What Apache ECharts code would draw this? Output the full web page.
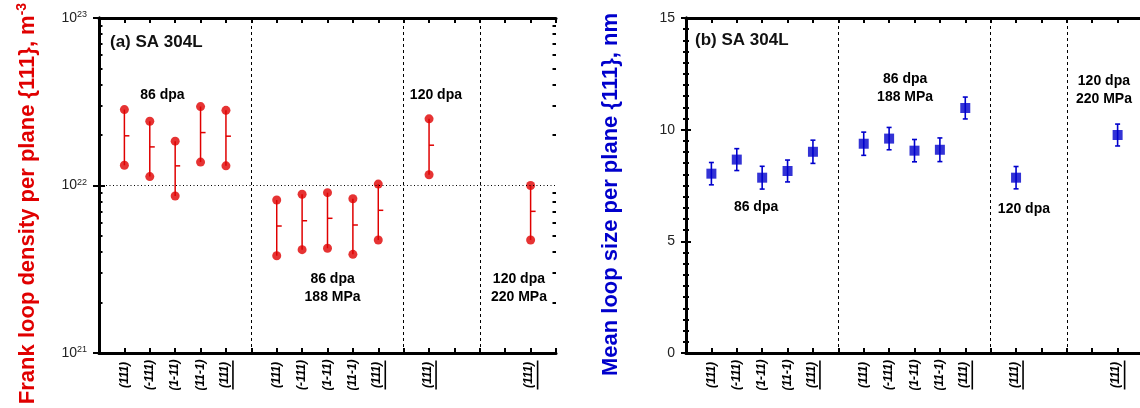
<!DOCTYPE html>
<html><head><meta charset="utf-8">
<script src="https://cdn.jsdelivr.net/npm/echarts@6/dist/echarts.min.js"></script>
<style>html,body{margin:0;padding:0;background:#fff}#c{width:1140px;height:408px}</style>
</head><body><div id="c"></div>
<script>
// ---- data ----
const catPos = [1, 2, 3, 4, 5, 7, 8, 9, 10, 11, 13, 17];
const catLabels = ['(111)', '(-111)', '(1-11)', '(11-1)', '(111)', '(111)', '(-111)', '(1-11)', '(11-1)', '(111)', '(111)', '(111)'];
const catUnderlined = [false, false, false, false, true, false, false, false, false, true, true, true];
const groupDividers = [6, 12, 15];

// Frank loop density per plane (m^-3): upper / lower bounds and mean
const densHigh = [2.84e22, 2.42e22, 1.84e22, 2.96e22, 2.81e22, 8.19e21, 8.86e21, 9.06e21, 8.34e21, 1.02e22, 2.50e22, 1.00e22];
const densLow  = [1.32e22, 1.13e22, 8.66e21, 1.38e22, 1.31e22, 3.81e21, 4.14e21, 4.22e21, 3.88e21, 4.73e21, 1.16e22, 4.73e21];
const densMid  = [1.98e22, 1.70e22, 1.31e22, 2.07e22, 1.97e22, 5.73e21, 6.16e21, 6.37e21, 5.81e21, 7.11e21, 1.74e22, 7.01e21];

// Mean loop size per plane (nm) and error
const sizeMean = [8.03, 8.66, 7.85, 8.15, 9.01, 9.37, 9.60, 9.06, 9.10, 10.97, 7.85, 9.76];
const sizeErr  = [0.50, 0.49, 0.51, 0.49, 0.52, 0.52, 0.50, 0.50, 0.53, 0.49, 0.50, 0.49];

// log-axis minor ticks
const densMinorTicks = [2e21,3e21,4e21,5e21,6e21,7e21,8e21,9e21,2e22,3e22,4e22,5e22,6e22,7e22,8e22,9e22];

// annotations (data coordinates)
const annLeftText = ['86 dpa', '86 dpa\n188 MPa', '120 dpa', '120 dpa\n220 MPa'];
const annLeftX = [2.5, 9.2, 13.27, 16.54];
const annLeftY = [3.44e22, 2.44e21, 3.47e22, 2.44e21];
const annRightText = ['86 dpa', '86 dpa\n188 MPa', '120 dpa', '120 dpa\n220 MPa'];
const annRightX = [2.76, 8.63, 13.31, 16.46];
const annRightY = [6.54, 11.85, 6.45, 11.76];

const panelTitles = ['(a) SA 304L', '(b) SA 304L'];

// ---- styles ----
const FONT = "'Liberation Sans', Arial, Helvetica, sans-serif";
const RED = '#e00000';
const BLUE = '#0000cc';

const labelMap = {};
catPos.forEach((p, i) => { labelMap[p] = catUnderlined[i] ? '{t|' + catLabels[i] + '}\n{u|}' : '{t|' + catLabels[i] + '}'; });

function xAxes(gi) {
  const common = {
    gridIndex: gi, type: 'value', min: 0, max: 18, interval: 1,
    axisLine: { show: true, onZero: false, lineStyle: { color: '#000', width: 3 } },
    axisTick: { show: true, inside: true, length: 5, lineStyle: { color: '#000', width: 2 } },
    splitLine: { show: false }
  };
  return [
    Object.assign({}, common, {
      position: 'bottom',
      axisLabel: {
        show: true, rotate: 90, align: 'center', margin: 22,
        formatter: v => labelMap[v] || '',
        rich: {
          t: { fontFamily: FONT, fontSize: 12, fontWeight: 'bold', fontStyle: 'italic', color: '#000', lineHeight: 14 },
          u: { width: 29, height: 1.6, lineHeight: 3, backgroundColor: '#000' }
        }
      }
    }),
    Object.assign({}, common, { position: 'top', axisLabel: { show: false } })
  ];
}

const leftY = {
  gridIndex: 0, type: 'log', logBase: 10, min: 1e21, max: 1e23, position: 'left',
  axisLine: { show: true, lineStyle: { color: '#000', width: 3 } },
  axisTick: { show: true, inside: true, length: 6, lineStyle: { color: '#000', width: 2 } },
  splitLine: { show: false },
  axisLabel: {
    margin: 12,
    formatter: v => '{b|10}{s|' + Math.round(Math.log10(v)) + '}',
    rich: {
      b: { fontFamily: FONT, fontSize: 14, color: '#222' },
      s: { fontFamily: FONT, fontSize: 9, color: '#222', verticalAlign: 'top', padding: [0, 0, 6, 0] }
    }
  },
  name: 'Frank loop density per plane {111}, m{s|-3}',
  nameLocation: 'middle', nameGap: 58,
  nameTextStyle: {
    fontFamily: FONT, fontSize: 22, fontWeight: 'bold', color: RED, padding: [0, 36, 0, 0],
    rich: { s: { fontFamily: FONT, fontSize: 14, fontWeight: 'bold', color: RED, padding: [0, 0, 12, 0] } }
  }
};
function logTwin(pos, minor) {
  return {
    gridIndex: 0, type: 'log', logBase: 10, min: 1e21, max: 1e23, position: pos,
    axisLine: { show: !minor, lineStyle: { color: '#000', width: 3 } },
    axisTick: minor ? { show: true, inside: true, length: 3.5, customValues: densMinorTicks, lineStyle: { color: '#000', width: 2 } }
                    : { show: true, inside: true, length: 6, lineStyle: { color: '#000', width: 2 } },
    axisLabel: { show: false }, splitLine: { show: false }
  };
}
const rightYCommon = {
  gridIndex: 1, type: 'value', min: 0, max: 15, interval: 5,
  axisLine: { show: true, lineStyle: { color: '#000', width: 3 } },
  axisTick: { show: true, inside: true, length: 5, lineStyle: { color: '#000', width: 2 } },
  minorTick: { show: true, splitNumber: 10, length: 3, lineStyle: { color: '#000', width: 2 } },
  splitLine: { show: false }
};

const annLabel = {
  show: true, position: 'inside', formatter: p => p.data[2],
  fontFamily: FONT, fontSize: 14, fontWeight: 'bold', color: '#000',
  textBorderWidth: 0, lineHeight: 18, align: 'center', opacity: 1
};

const option = {
  animation: false,
  backgroundColor: '#fff',
  title: [
    { text: panelTitles[0], left: 110, top: 34, padding: 0, textStyle: { fontFamily: FONT, fontSize: 17, fontWeight: 'bold', color: '#111' } },
    { text: panelTitles[1], left: 695, top: 32, padding: 0, textStyle: { fontFamily: FONT, fontSize: 17, fontWeight: 'bold', color: '#111' } }
  ],
  grid: [
    { left: 99, top: 18, width: 457, height: 335, outerBoundsMode: 'none', containLabel: false },
    { left: 686, top: 18, width: 457, height: 335, outerBoundsMode: 'none', containLabel: false }
  ],
  xAxis: xAxes(0).concat(xAxes(1)),
  yAxis: [
    leftY,
    logTwin('right', false),
    logTwin('left', true),
    logTwin('right', true),
    Object.assign({}, rightYCommon, {
      position: 'left',
      axisLabel: { margin: 11, fontFamily: FONT, fontSize: 14, color: '#222' },
      name: 'Mean loop size per plane {111}, nm', nameLocation: 'middle', nameGap: 64,
      nameTextStyle: { fontFamily: FONT, fontSize: 22, fontWeight: 'bold', color: BLUE, padding: [0, 18, 0, 0] }
    }),
    Object.assign({}, rightYCommon, { position: 'right', axisLabel: { show: false } })
  ],
  series: [
    // left panel: range lines with mean tick
    {
      type: 'custom', xAxisIndex: 0, yAxisIndex: 0, silent: true, z: 3,
      data: catPos.map((x, i) => [x, densLow[i], densHigh[i], densMid[i]]),
      encode: { x: 0, y: [1, 2, 3] },
      renderItem: (params, api) => {
        const x = api.value(0);
        const lo = api.coord([x, api.value(1)]);
        const hi = api.coord([x, api.value(2)]);
        const md = api.coord([x, api.value(3)]);
        return { type: 'group', children: [
          { type: 'line', shape: { x1: lo[0], y1: lo[1], x2: hi[0], y2: hi[1] }, style: { stroke: RED, lineWidth: 1.5 } },
          { type: 'line', shape: { x1: md[0], y1: md[1], x2: md[0] + 5, y2: md[1] }, style: { stroke: RED, lineWidth: 1.5 } }
        ] };
      },
      markLine: {
        silent: true, symbol: 'none', label: { show: false },
        data: groupDividers.map(d => ({ xAxis: d, lineStyle: { type: [3, 3], color: '#000', width: 1 } }))
          .concat([{ yAxis: 1e22, lineStyle: { type: [1, 2.5], color: '#000', width: 1.2 } }])
      }
    },
    { type: 'scatter', xAxisIndex: 0, yAxisIndex: 0, silent: true, z: 4, symbol: 'circle', symbolSize: 9,
      itemStyle: { color: RED }, data: catPos.map((x, i) => [x, densHigh[i]]) },
    { type: 'scatter', xAxisIndex: 0, yAxisIndex: 0, silent: true, z: 4, symbol: 'circle', symbolSize: 9,
      itemStyle: { color: RED }, data: catPos.map((x, i) => [x, densLow[i]]) },
    { type: 'scatter', xAxisIndex: 0, yAxisIndex: 0, silent: true, z: 5, symbolSize: 1,
      itemStyle: { color: 'rgba(0,0,0,0)' }, label: annLabel,
      data: annLeftText.map((t, i) => [annLeftX[i], annLeftY[i], t]) },
    // right panel: error bars
    {
      type: 'custom', xAxisIndex: 2, yAxisIndex: 4, silent: true, z: 3,
      data: catPos.map((x, i) => [x, sizeMean[i] - sizeErr[i], sizeMean[i] + sizeErr[i]]),
      encode: { x: 0, y: [1, 2] },
      renderItem: (params, api) => {
        const x = api.value(0);
        const lo = api.coord([x, api.value(1)]);
        const hi = api.coord([x, api.value(2)]);
        const st = { stroke: BLUE, lineWidth: 1.6 };
        return { type: 'group', children: [
          { type: 'line', shape: { x1: lo[0], y1: lo[1], x2: hi[0], y2: hi[1] }, style: st },
          { type: 'line', shape: { x1: lo[0] - 2.5, y1: lo[1], x2: lo[0] + 2.5, y2: lo[1] }, style: st },
          { type: 'line', shape: { x1: hi[0] - 2.5, y1: hi[1], x2: hi[0] + 2.5, y2: hi[1] }, style: st }
        ] };
      },
      markLine: {
        silent: true, symbol: 'none', label: { show: false },
        data: groupDividers.map(d => ({ xAxis: d, lineStyle: { type: [3, 3], color: '#000', width: 1 } }))
      }
    },
    { type: 'scatter', xAxisIndex: 2, yAxisIndex: 4, silent: true, z: 4, symbol: 'rect', symbolSize: 10,
      itemStyle: { color: BLUE }, data: catPos.map((x, i) => [x, sizeMean[i]]) },
    { type: 'scatter', xAxisIndex: 2, yAxisIndex: 4, silent: true, z: 5, symbolSize: 1,
      itemStyle: { color: 'rgba(0,0,0,0)' }, label: annLabel,
      data: annRightText.map((t, i) => [annRightX[i], annRightY[i], t]) }
  ]
};

const chart = echarts.init(document.getElementById('c'), null, { renderer: 'canvas' });
chart.setOption(option);
</script>
</body></html>
